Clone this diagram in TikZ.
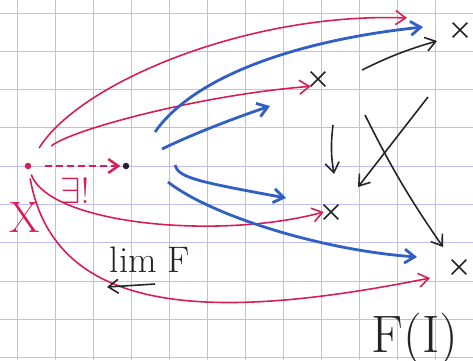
\documentclass[tikz,border=0pt]{standalone}
\usetikzlibrary{arrows.meta,shapes.misc}
\definecolor{inkred}{RGB}{214,30,85}
\definecolor{inkblue}{RGB}{50,95,195}
\definecolor{inkblack}{RGB}{35,35,40}
\definecolor{gridblue}{RGB}{192,190,240}
\tikzstyle{gline}=[gridblue,line width=0.55pt]
\tikzstyle{fpt}=[cross out,draw=inkblack,line width=0.9pt,minimum size=2.6mm,inner sep=0pt]
\tikzstyle{dotnode}=[circle,inner sep=0pt,minimum size=1.3mm]
\tikzstyle{rarr}=[->,inkred,line width=0.9pt]
\tikzstyle{barr}=[->,inkblue,line width=1.6pt]
\tikzstyle{karr}=[->,inkblack,line width=0.9pt]

\begin{document}
\begin{tikzpicture}[x=0.02cm,y=-0.02cm,>={Straight Barb[length=2mm,width=2.8mm]}]
\fill[white] (0,0) rectangle (473,360);
\useasboundingbox (0,0) rectangle (473,360);
% squared paper
\foreach \gx in {17,55,...,473} \draw[gline] (\gx,0)--(\gx,360);
\foreach \gy in {0,...,9} \draw[gline] (0,13+38.3*\gy)--(473,13+38.3*\gy);
% points
\node[dotnode,fill=inkred] (xdot) at (28,166) {};
\node[dotnode,fill=inkblack] (ldot) at (126,166) {};
\node[fpt] (pA) at (460,30) {};
\node[fpt] (pB) at (318,79) {};
\node[fpt] (pC) at (331,212) {};
\node[fpt] (pD) at (459,267) {};
\node[inkred,font=\fontsize{25}{25}\selectfont] (xlab) at (25,217) {X};
\node[inkred,font=\fontsize{20}{20}\selectfont] (uniq) at (75,191) {$\exists!$};
\node[inkblack,font=\fontsize{21}{21}\selectfont] (limlab) at (150,260) {lim F};
\node[inkblack,font=\fontsize{30}{30}\selectfont] (filab) at (415,339) {F(I)};
% free ends
\coordinate (rA) at (407,18);
\coordinate (rD) at (430,278);
\coordinate (ba0) at (155,132); \coordinate (ba1) at (423,27);
\coordinate (bb0) at (162,149); \coordinate (bb1) at (270,106);
\coordinate (bc0) at (175,165); \coordinate (bc1) at (286,198);
\coordinate (bd0) at (168,182); \coordinate (bd1) at (417,257);
\coordinate (ka0) at (362,70); \coordinate (ka1) at (437,41);
\coordinate (kb0) at (333,125); \coordinate (kb1) at (334,174);
\coordinate (kc0) at (428,97); \coordinate (kc1) at (358,187);
\coordinate (kd0) at (365,115); \coordinate (kd1) at (443,247);
\coordinate (la0) at (155,284); \coordinate (la1) at (107,287);
% cone of X
\draw[->,inkred,line width=1.4pt,dash pattern=on 1.4mm off 0.8mm,shorten <=2.6mm,shorten >=0.4mm] (xdot)--(ldot);
\draw[rarr,shorten <=3.5mm] (xdot) .. controls (80,82) and (250,12) .. (rA);
\draw[rarr,shorten <=5.4mm] (xdot) .. controls (70,130) and (200,95) .. (pB.south west);
\draw[rarr,shorten <=1.1mm] (xdot) .. controls (50,225) and (220,240) .. (pC.west);
\draw[rarr,shorten <=1.8mm] (xdot) .. controls (55,320) and (220,320) .. (rD);
% limit cone
\draw[barr] (ba0) .. controls (195,75) and (300,40) .. (ba1);
\draw[barr] (bb0) .. controls (195,133) and (235,118) .. (bb1);
\draw[barr] (bc0) .. controls (178,178) and (200,182) .. (bc1);
\draw[barr] (bd0) .. controls (210,215) and (320,250) .. (bd1);
% maps of F
\draw[karr] (ka0) to[bend left=5] (ka1);
\draw[karr] (kb0) to[bend right=8] (kb1);
\draw[karr] (kc0) -- (kc1);
\draw[karr] (kd0) to[bend right=4] (kd1);
\draw[karr] (la0) -- (la1);
\end{tikzpicture}
\end{document}
